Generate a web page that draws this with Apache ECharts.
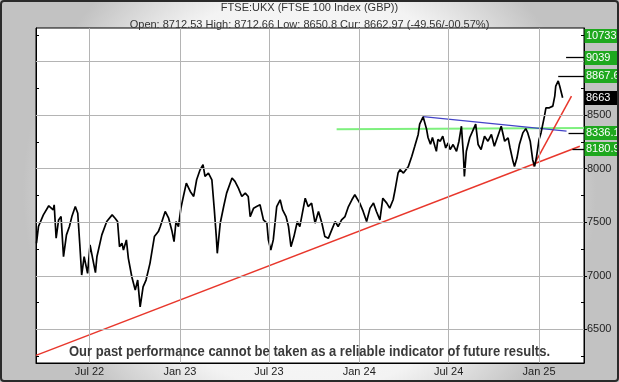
<!DOCTYPE html>
<html><head><meta charset="utf-8">
<script src="https://cdn.jsdelivr.net/npm/echarts@6/dist/echarts.min.js"></script>
<style>html,body{margin:0;padding:0;background:#fff}#c{width:619px;height:382px}</style>
</head><body><div id="c"></div>
<script>
// ---- data ----
const priceDates = ['2022-03-15','2022-03-19','2022-03-29','2022-04-09','2022-04-18','2022-04-20','2022-04-24','2022-04-29','2022-05-04','2022-05-09','2022-05-15','2022-05-21','2022-05-26','2022-06-02','2022-06-07','2022-06-11','2022-06-15','2022-06-20','2022-06-27','2022-07-02','2022-07-08','2022-07-13','2022-07-16','2022-07-26','2022-08-05','2022-08-16','2022-08-22','2022-08-27','2022-08-31','2022-09-05','2022-09-08','2022-09-14','2022-09-18','2022-09-25','2022-10-02','2022-10-07','2022-10-12','2022-10-18','2022-10-24','2022-11-01','2022-11-10','2022-11-18','2022-11-22','2022-12-02','2022-12-09','2022-12-16','2022-12-20','2022-12-24','2022-12-29','2023-01-03','2023-01-08','2023-01-14','2023-01-22','2023-01-29','2023-02-04','2023-02-11','2023-02-17','2023-02-21','2023-02-28','2023-03-07','2023-03-12','2023-03-16','2023-03-18','2023-03-24','2023-03-31','2023-04-06','2023-04-17','2023-04-23','2023-04-30','2023-05-07','2023-05-14','2023-05-20','2023-05-24','2023-05-31','2023-06-06','2023-06-13','2023-06-20','2023-06-27','2023-06-30','2023-07-05','2023-07-10','2023-07-17','2023-07-24','2023-07-29','2023-08-05','2023-08-10','2023-08-15','2023-08-21','2023-08-28','2023-09-02','2023-09-13','2023-09-19','2023-09-26','2023-10-03','2023-10-10','2023-10-17','2023-10-23','2023-10-30','2023-11-06','2023-11-13','2023-11-19','2023-11-26','2023-12-03','2023-12-10','2023-12-17','2023-12-23','2024-01-02','2024-01-09','2024-01-16','2024-01-23','2024-01-30','2024-02-05','2024-02-12','2024-02-18','2024-02-26','2024-03-03','2024-03-10','2024-03-14','2024-03-20','2024-03-24','2024-03-31','2024-04-10','2024-04-17','2024-04-23','2024-04-30','2024-05-03','2024-05-10','2024-05-17','2024-05-20','2024-05-25','2024-05-29','2024-06-03','2024-06-06','2024-06-09','2024-06-14','2024-06-19','2024-06-25','2024-06-30','2024-07-04','2024-07-10','2024-07-17','2024-07-22','2024-07-27','2024-07-31','2024-08-02','2024-08-06','2024-08-13','2024-08-19','2024-08-25','2024-08-30','2024-09-05','2024-09-12','2024-09-19','2024-09-26','2024-10-02','2024-10-09','2024-10-16','2024-10-23','2024-10-30','2024-11-03','2024-11-09','2024-11-12','2024-11-17','2024-11-22','2024-11-29','2024-12-05','2024-12-09','2024-12-14','2024-12-19','2024-12-23','2024-12-27','2025-01-01','2025-01-05','2025-01-12','2025-01-15','2025-01-22','2025-01-29','2025-02-02','2025-02-04','2025-02-09','2025-02-12','2025-02-16','2025-02-18'];
const priceValues = [7304,7460,7569,7654,7616,7663,7351,7522,7553,7178,7382,7460,7553,7647,7584,7304,7007,7178,7022,7288,7147,7029,7178,7382,7507,7569,7538,7507,7272,7304,7241,7335,7163,6991,6866,6960,6709,6897,6960,7116,7366,7413,7460,7601,7538,7413,7319,7507,7460,7632,7741,7866,7788,7741,7897,7990,8038,7929,7960,7897,7616,7366,7210,7491,7647,7772,7913,7882,7819,7741,7772,7741,7553,7632,7647,7663,7522,7491,7335,7241,7335,7647,7710,7616,7553,7460,7272,7366,7507,7460,7725,7647,7679,7491,7601,7491,7366,7350,7429,7507,7460,7522,7553,7647,7710,7757,7679,7601,7507,7632,7679,7601,7522,7725,7679,7632,7710,7804,7960,7991,7960,8022,8116,8210,8320,8416,8485,8370,8292,8229,8292,8210,8163,8273,8257,8304,8194,8241,8179,8226,8163,8257,8397,8132,7929,8163,8292,8354,8416,8226,8179,8304,8257,8320,8210,8304,8397,8257,8288,8194,8069,8022,8100,8226,8335,8375,8335,8257,8085,8022,8116,8273,8335,8491,8569,8569,8585,8679,8773,8820,8773,8789,8664];

const supportDates = ['2022-03-14','2025-03-25'];
const supportValues = [6256,8210];
const steepDates = ['2024-12-20','2025-03-08'];
const steepValues = [8022,8679];
const blueDates = ['2024-05-10','2025-02-26'];
const blueValues = [8486,8352];
const greenDates = ['2023-11-16','2025-04-02T12:00'];
const greenValues = [8370,8380];

const levelValues = [10733, 9039, 8867.6, 8336.1, 8180.9];
const levelLabels = ['10733.', '9039', '8867.6', '8336.1', '8180.9'];
const levelStart = [null, '2025-02-25', '2025-02-09', '2025-03-02', '2025-03-10'];
const currentValue = 8663;
const currentLabel = '8663';

const xTickDates = ['2022-07-01','2023-01-01','2023-07-01','2024-01-01','2024-07-01','2025-01-01'];
const xTickLabels = ['Jul 22','Jan 23','Jul 23','Jan 24','Jul 24','Jan 25'];
const yTickValues = [6500,7000,7500,8000,8500,9000];
const yMinorTicks = [6250,6750,7250,7750,8250,8750,9250];
const yAllTicks = [6250,6500,6750,7000,7250,7500,7750,8000,8250,8500,8750,9000,9250];

const xMin = '2022-03-14', xMax = '2025-04-02T12:00';
const yMin = 6185, yMax = 9315;

const titleText = 'FTSE:UKX (FTSE 100 Index (GBP))';
const subText = 'Open: 8712.53 High: 8712.66 Low: 8650.8 Cur: 8662.97 (-49.56/-00.57%)';
const footerText = 'Our past performance cannot be taken as a reliable indicator of future results.';

// ---- chart ----
const zip = (a, b) => a.map((d, i) => [d, b[i]]);
const chart = echarts.init(document.getElementById('c'), null, {renderer: 'canvas'});
const FONT = "'Liberation Sans', Arial, sans-serif";
const gridPos = {left: 36, right: 35, top: 28, bottom: 19};

const option = {
  animation: false,
  backgroundColor: {
    type: 'radial', x: 0.5, y: 0.5, r: 0.75,
    colorStops: [{offset: 0, color: '#ffffff'}, {offset: 0.7, color: '#f3f3f3'}, {offset: 1, color: '#c2c2c2'}]
  },
  title: [
    {text: titleText, subtext: subText, left: 'center', top: 2, padding: 0, itemGap: 6,
     textStyle: {fontSize: 11, fontWeight: 'normal', color: '#333', fontFamily: FONT},
     subtextStyle: {fontSize: 11, color: '#333', fontFamily: FONT}}
  ],
  grid: Object.assign({show: true, backgroundColor: '#fff', borderColor: '#000', borderWidth: 1}, gridPos),
  xAxis: {
    type: 'time', min: xMin, max: xMax,
    axisLine: {show: true, lineStyle: {color: '#000', width: 1}},
    axisTick: {show: false}, axisLabel: {show: false}, splitLine: {show: false}
  },
  yAxis: [
    {type: 'value', position: 'right', min: yMin, max: yMax,
     axisLine: {show: true, lineStyle: {color: '#000'}},
     axisTick: {show: true, customValues: yTickValues, length: 3, lineStyle: {color: '#000'}},
     axisLabel: {show: true, customValues: yTickValues, margin: 3, color: '#222', fontSize: 11, fontFamily: FONT,
       formatter: v => String(v)},
     splitLine: {show: false}},
    {type: 'value', position: 'right', min: yMin, max: yMax,
     axisLine: {show: false},
     axisTick: {show: true, inside: true, customValues: yMinorTicks, length: 3, lineStyle: {color: '#000'}},
     axisLabel: {show: false}, splitLine: {show: false}},
    {type: 'value', position: 'left', min: yMin, max: yMax,
     axisLine: {show: true, lineStyle: {color: '#000'}},
     axisTick: {show: true, inside: true, customValues: yAllTicks, length: 3, lineStyle: {color: '#000'}},
     axisLabel: {show: false}, splitLine: {show: false}}
  ],
  series: [
    {type: 'line', data: [], z: 1, silent: true,
     markLine: {silent: true, symbol: ['none', 'none'], animation: false,
       lineStyle: {color: '#b4b4b4', width: 1, type: 'solid'},
       data: xTickDates.map((d, i) => ({xAxis: d, label: {show: true, position: 'start', distance: 3,
               formatter: xTickLabels[i], color: '#222', fontSize: 11, fontFamily: FONT}}))
         .concat(yTickValues.map(v => ({yAxis: v, label: {show: false}})))}},
    {type: 'line', name: 'support', data: zip(supportDates, supportValues), symbol: 'none',
     lineStyle: {color: '#e8372c', width: 1.5}, z: 3},
    {type: 'line', name: 'steep', data: zip(steepDates, steepValues), symbol: 'none',
     lineStyle: {color: '#e8372c', width: 1.5}, z: 3},
    {type: 'line', name: 'green', data: zip(greenDates, greenValues), symbol: 'none',
     lineStyle: {color: '#7ef07e', width: 2}, z: 2},
    {type: 'line', name: 'blue', data: zip(blueDates, blueValues), symbol: 'none',
     lineStyle: {color: '#4343c8', width: 1.3}, z: 3},
    {type: 'line', name: 'price', data: zip(priceDates, priceValues), symbol: 'none',
     lineStyle: {color: '#000', width: 1.7}, z: 4},
    {type: 'line', data: [], z: 4, silent: true,
     markLine: {silent: true, symbol: ['none', 'none'], animation: false, label: {show: false},
       lineStyle: {color: '#000', width: 1.3, type: 'solid'},
       data: levelValues.map((v, i) => levelStart[i] ? [{coord: [levelStart[i], v]}, {coord: [xMax, v]}] : null)
             .filter(Boolean)}}
  ]
};
chart.setOption(option);

// price-level tags at the right, positioned with the y scale
const topY = chart.convertToPixel({yAxisIndex: 0}, yMax);
const tags = levelValues.map((v, i) => ({v, text: levelLabels[i], fill: '#1ea81e'}))
  .concat([{v: currentValue, text: currentLabel, fill: '#000'}]);
const gx = chart.convertToPixel({xAxisIndex: 0}, xMax);
const graphic = [];
tags.forEach(t => {
  const cy = Math.max(chart.convertToPixel({yAxisIndex: 0}, t.v), topY + 8);
  graphic.push({type: 'rect', z: 100, shape: {x: gx + 0.5, y: Math.round(cy) - 7, width: 40, height: 14},
    style: {fill: t.fill}});
  graphic.push({type: 'text', z: 101, x: gx + 2, y: Math.round(cy),
    style: {text: t.text, fill: '#fff', font: "11px 'Liberation Sans', Arial, sans-serif", verticalAlign: 'middle'}});
});
// footer disclaimer in a narrow bold face
const footFont = "bold 14px 'Liberation Sans', Arial, sans-serif";
const mctx = document.createElement('canvas').getContext('2d');
mctx.font = footFont;
const footScale = 481 / mctx.measureText(footerText).width;
graphic.push({type: 'text', z: 90, x: 309.5, y: 352, scaleX: footScale,
  style: {text: footerText, font: footFont, fill: '#3a3a3a', align: 'center', verticalAlign: 'middle'}});
graphic.push({type: 'rect', z: 102, shape: {x: 1, y: 1, width: 617, height: 380, r: 3},
  style: {fill: 'none', stroke: '#2a2a2a', lineWidth: 2}});
chart.setOption({graphic});
</script></body></html>
